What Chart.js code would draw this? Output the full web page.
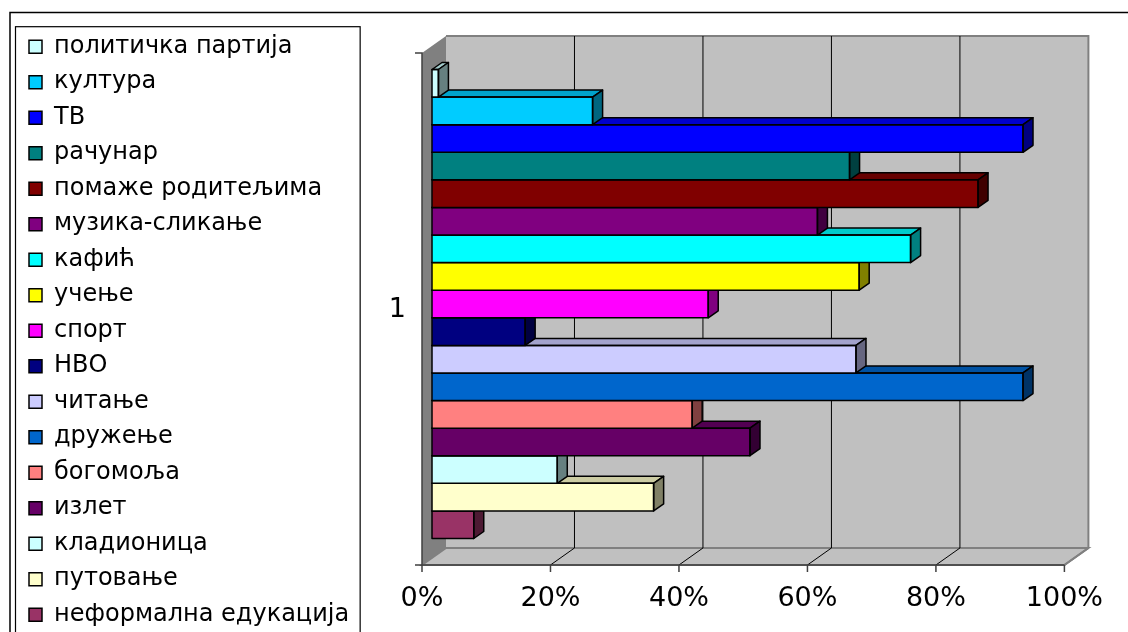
<!DOCTYPE html>
<html>
<head>
<meta charset="utf-8">
<script src="https://cdn.jsdelivr.net/npm/chart.js@4/dist/chart.umd.min.js"></script>
<style>
  html, body { margin: 0; padding: 0; background: #fff; overflow: hidden; }
  #wrap { width: 1128px; height: 632px; overflow: hidden; }
</style>
</head>
<body>
<div id="wrap"><canvas id="myChart" width="1128" height="660"></canvas></div>
<script>
// Data (percent)
const categories = ['1'];
const seriesNames = [
    'политичка партија', 'култура', 'ТВ', 'рачунар', 'помаже родитељима',
    'музика-сликање', 'кафић', 'учење', 'спорт', 'НВО', 'читање', 'дружење',
    'богомоља', 'излет', 'кладионица', 'путовање', 'неформална едукација'
];
const seriesValues = [1, 25, 92, 65, 85, 60, 74.5, 66.5, 43, 14.5, 66, 92, 40.5, 49.5, 19.5, 34.5, 6.5];
const seriesColors = [
    '#CCFFFF', '#00CCFF', '#0000FF', '#008080', '#800000',
    '#800080', '#00FFFF', '#FFFF00', '#FF00FF', '#000080', '#CCCCFF', '#0066CC',
    '#FF8080', '#660066', '#CCFFFF', '#FFFFCC', '#993366'
];
const xTickStep = 20;
const xMax = 100;

// layout
const PAD_LEFT = 17.5;
const PLOT_LEFT = 432;

// 3D look: offsets of the wall planes / bar depth relative to the chart area
const FRONT = { dx: -10, dy: 5 };
const BACK = { dx: 14, dy: -12 };
const BAR_DEPTH = { dx: 10, dy: -7 };

function shade(hex, f) {
    const n = parseInt(hex.slice(1), 16);
    const r = Math.round(((n >> 16) & 255) * f);
    const g = Math.round(((n >> 8) & 255) * f);
    const b = Math.round((n & 255) * f);
    return `rgb(${r},${g},${b})`;
}

function poly(ctx, pts, fill, stroke) {
    ctx.beginPath();
    ctx.moveTo(pts[0][0], pts[0][1]);
    for (let i = 1; i < pts.length; i++) ctx.lineTo(pts[i][0], pts[i][1]);
    ctx.closePath();
    if (fill) { ctx.fillStyle = fill; ctx.fill(); }
    if (stroke) ctx.stroke();
}

const box3d = {
    id: 'box3d',
    beforeDatasetsDraw(chart) {
        const { ctx, chartArea: a, scales: { x } } = chart;
        const fl = a.left + FRONT.dx, fr = a.right + FRONT.dx, ft = a.top + FRONT.dy, fb = a.bottom + FRONT.dy;
        const bl = a.left + BACK.dx, br = a.right + BACK.dx, bt = a.top + BACK.dy, bb = a.bottom + BACK.dy;
        ctx.save();
        // walls and floor
        ctx.fillStyle = '#c0c0c0';
        ctx.fillRect(bl, bt, br - bl, bb - bt);
        poly(ctx, [[fl, ft], [bl, bt], [bl, bb], [fl, fb]], '#808080');
        ctx.strokeStyle = '#808080';
        ctx.lineWidth = 2;
        poly(ctx, [[fl, fb], [bl, bb], [br, bb], [fr, fb]], '#c0c0c0', true);
        ctx.beginPath();
        ctx.moveTo(bl, bt); ctx.lineTo(br, bt); ctx.lineTo(br, bb);
        ctx.moveTo(fr, fb); ctx.lineTo(br, bb);
        ctx.stroke();
        // gridlines on back wall + floor
        ctx.strokeStyle = '#000';
        ctx.lineWidth = 1;
        x.ticks.forEach(t => {
            const px = x.getPixelForValue(t.value);
            if (t.value > 0 && t.value < xMax) {
                ctx.beginPath();
                ctx.moveTo(px + BACK.dx, bt);
                ctx.lineTo(px + BACK.dx, bb);
                ctx.lineTo(px + FRONT.dx, fb);
                ctx.stroke();
            }
        });
        // front axes and tick marks
        ctx.strokeStyle = '#404040';
        ctx.lineWidth = 1.5;
        ctx.beginPath();
        ctx.moveTo(fl - 7, ft); ctx.lineTo(fl, ft); ctx.lineTo(fl, fb);
        ctx.moveTo(fl - 7, fb); ctx.lineTo(fr, fb);
        x.ticks.forEach(t => {
            const px = x.getPixelForValue(t.value) + FRONT.dx;
            ctx.moveTo(px, fb); ctx.lineTo(px, fb + 7);
        });
        ctx.stroke();
        ctx.restore();
    },
    afterDatasetDraw(chart, args) {
        const { ctx } = chart;
        const color = chart.data.datasets[args.index].backgroundColor;
        args.meta.data.forEach(bar => {
            const { x, y, base, height } = bar.getProps(['x', 'y', 'base', 'height'], true);
            const top = y - height / 2, bottom = y + height / 2;
            const { dx, dy } = BAR_DEPTH;
            ctx.save();
            ctx.lineWidth = 1.5;
            ctx.strokeStyle = '#000';
            ctx.lineJoin = 'round';
            poly(ctx, [[base, top], [base + dx, top + dy], [x + dx, top + dy], [x, top]], shade(color, 0.8), true);
            poly(ctx, [[x, top], [x + dx, top + dy], [x + dx, bottom + dy], [x, bottom]], shade(color, 0.5), true);
            ctx.strokeRect(base, top, x - base, height);
            ctx.restore();
        });
    },
    afterDraw(chart) {
        const { ctx, legend } = chart;
        ctx.save();
        ctx.strokeStyle = '#000';
        ctx.lineWidth = 1.5;
        ctx.strokeRect(10, 12.5, 1400, 900);
        ctx.lineWidth = 1.2;
        ctx.strokeRect(legend.left - 2, legend.top + 3.5, legend.width + 3, 900);
        ctx.restore();
    }
};

Chart.defaults.font.family = '"DejaVu Sans", Verdana, sans-serif';
Chart.defaults.color = '#000';

const ctx = document.getElementById('myChart').getContext('2d');

const myChart = new Chart(ctx, {
    type: 'bar',
    data: {
        labels: categories,
        datasets: seriesNames.map((name, i) => ({
            label: name,
            data: [seriesValues[i]],
            backgroundColor: seriesColors[i],
            borderWidth: 0,
            barPercentage: 1,
            categoryPercentage: 0.916
        }))
    },
    options: {
        indexAxis: 'y',
        responsive: false,
        animation: false,
        layout: { padding: { top: 23.2, left: PAD_LEFT, right: 53, bottom: 0 } },
        plugins: {
            tooltip: { enabled: false },
            title: {
                display: true,
                text: ' ',
                fullSize: false,
                padding: 0,
                font: { size: 24.8, lineHeight: 1 }
            },
            legend: {
                position: 'left',
                align: 'start',
                maxWidth: 420,
                labels: {
                    boxWidth: 13,
                    boxHeight: 13,
                    padding: 11.5,
                    font: { size: 24 },
                    generateLabels(chart) {
                        return Chart.defaults.plugins.legend.labels.generateLabels(chart)
                            .map(item => ({ ...item, strokeStyle: '#000', lineWidth: 1.5 }));
                    }
                }
            }
        },
        scales: {
            x: {
                min: 0,
                max: xMax,
                grid: { display: false },
                border: { display: false },
                ticks: {
                    stepSize: xTickStep,
                    callback: v => v + '%',
                    font: { size: 27 },
                    padding: 15,
                    labelOffset: FRONT.dx,
                    maxRotation: 0,
                    autoSkip: false
                },
                afterFit(s) { s.height = 100; }
            },
            y: {
                grid: { display: false },
                border: { display: false },
                ticks: {
                    font: { size: 27 },
                    padding: 18,
                    labelOffset: 6
                },
                afterFit(s) { s.width = PLOT_LEFT - PAD_LEFT - s.chart.legend.width; }
            }
        }
    },
    plugins: [box3d]
});
</script>
</body>
</html>
